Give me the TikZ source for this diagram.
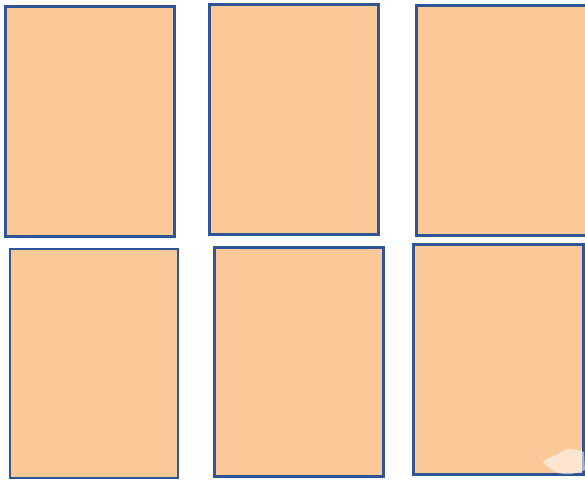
\documentclass[tikz,border=0pt]{standalone}
\usepackage{xcolor}
\usepackage{tikz}
\usetikzlibrary{positioning}
\definecolor{sheetfill}{RGB}{251,200,151}
\definecolor{sheetedge}{RGB}{47,85,151}

\begin{document}
\begin{tikzpicture}[
    x=1pt, y=-1pt,
    panel/.style={
        rectangle, draw=sheetedge, fill=sheetfill,
        line width=2.8pt, inner sep=0pt, outer sep=0pt,
        anchor=north west
    },
    cursor/.style={fill=white, fill opacity=0.55, draw=none}
]
\useasboundingbox (0,0) rectangle (585,481);
% top row
\node[panel, minimum width=169pt, minimum height=230pt] (p1) at (5.5,6.5) {};
\node[panel, minimum width=169pt, minimum height=230pt] (p2) at (209.7,4.8) {};
\node[panel, minimum width=170pt, minimum height=230pt] (p3) at (416.7,5.3) {};
% bottom row
\node[panel, minimum width=168pt, minimum height=229pt] (p4) at (10,249) {};
\node[panel, minimum width=169pt, minimum height=229pt] (p5) at (214.3,247.7) {};
\node[panel, minimum width=170pt, minimum height=230pt] (p6) at (413.3,244.3) {};

% faint pointer mark
\fill[cursor] (543,462) .. controls (550,455) and (556,457) .. (561,452)
    .. controls (566,447) and (577,449) .. (584,452) -- (585,470)
    .. controls (575,475) and (560,476) .. (552,470)
    .. controls (548,467) and (545,465) .. (543,462) -- cycle;
\end{tikzpicture}
\end{document}
